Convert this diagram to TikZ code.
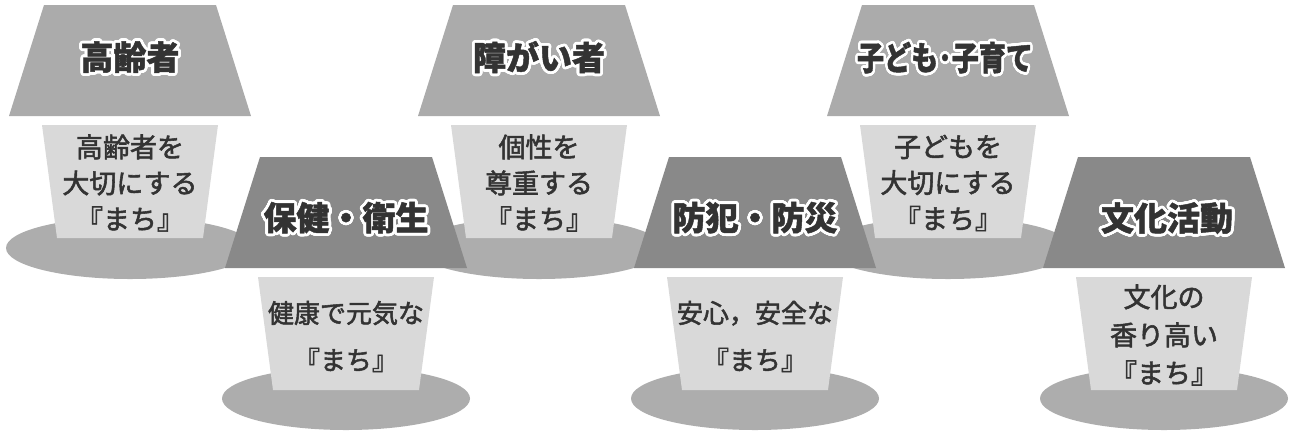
\documentclass[tikz,border=0pt]{standalone}
\usepackage{fontspec}
\usepackage{graphicx}
\usepackage{contour}
\newfontfamily\jpbody{Noto Sans CJK JP}[FakeBold=2]
\newfontfamily\jptitle{Noto Sans CJK JP}[BoldFeatures={FakeBold=1.4}]
\contourlength{2.8pt}
\contournumber{32}
\definecolor{shadeUp}{HTML}{ABABAB}
\definecolor{shadeLow}{HTML}{898989}
\definecolor{boxfill}{HTML}{D9D9D9}
\definecolor{basefill}{HTML}{ADADAD}
\definecolor{ink}{HTML}{333333}
\tikzset{
  lampshadeup/.style={fill=shadeUp,draw=none},
  lampshadelow/.style={fill=shadeLow,draw=none},
  lightbox/.style={fill=boxfill,draw=none},
  lampbase/.style={fill=basefill,draw=none},
  titletext/.style={text=ink,inner sep=0pt,font=\jptitle\bfseries\fontsize{33}{40}\selectfont},
  bodytext/.style={text=ink,inner sep=0pt,align=center,font=\jpbody\fontsize{27}{36}\selectfont},
}
\begin{document}
\begin{tikzpicture}[x=1pt,y=-1pt]
\useasboundingbox (0,0) rectangle (1295,432);
% upper row
\foreach \c in {130,539,948}{
  \fill[lampbase] (\c,248) ellipse [x radius=124, y radius=31];
  \fill[lampshadeup] (\c-86,5) -- (\c+86,5) -- (\c+121,116) -- (\c-121,116) -- cycle;
  \fill[lightbox] (\c-88,125) -- (\c+88,125) -- (\c+73,238) -- (\c-73,238) -- cycle;
}
% lower row
\foreach \c in {346,755,1164}{
  \fill[lampbase] (\c,398.5) ellipse [x radius=124, y radius=31.5];
  \fill[lampshadelow] (\c-86,157) -- (\c+86,157) -- (\c+121,268) -- (\c-121,268) -- cycle;
  \fill[lightbox] (\c-88,277) -- (\c+88,277) -- (\c+73,390) -- (\c-73,390) -- cycle;
}
% titles
\node[titletext] (t1) at (130,58.5) {\contour{white}{高齢者}};
\node[titletext] (t3) at (539,58.5) {\contour{white}{障がい者}};
\node[titletext] (t5) at (945,59) {\scalebox{0.82}[1]{\contour{white}{子ども･子育て}}};
\node[titletext] (t2) at (346,219) {\contour{white}{保健・衛生}};
\node[titletext] (t4) at (755,219) {\contour{white}{防犯・防災}};
\node[titletext] (t6) at (1167,219.5) {\contour{white}{文化活動}};
% body texts
\node[bodytext] (b1) at (130,183) {高齢者を\\大切にする\\『まち』};
\node[bodytext] (b3) at (539,183) {個性を\\尊重する\\『まち』};
\node[bodytext] (b5) at (948,183) {子どもを\\大切にする\\『まち』};
\node[bodytext,font=\jpbody\fontsize{26}{47}\selectfont] (b2) at (346,336.5) {健康で元気な\\『まち』};
\node[bodytext,font=\jpbody\fontsize{26}{47}\selectfont] (b4) at (755,336.5) {安心，安全な\\『まち』};
\node[bodytext,font=\jpbody\fontsize{27}{38}\selectfont] (b6) at (1164,335) {文化の\\香り高い\\『まち』};
\end{tikzpicture}
\end{document}
